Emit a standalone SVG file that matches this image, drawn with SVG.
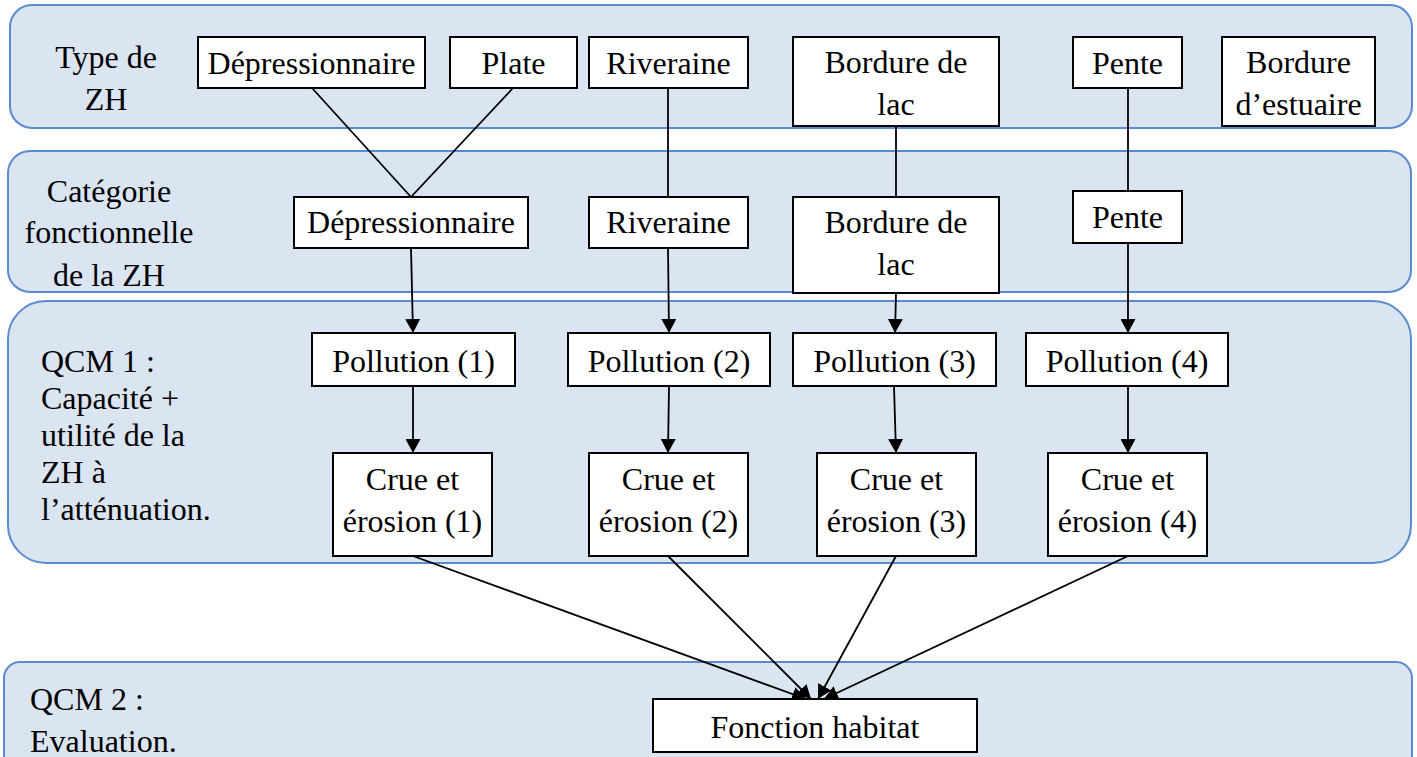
<svg xmlns="http://www.w3.org/2000/svg" width="1417" height="757" viewBox="0 0 1417 757">
<defs>
<style>
.band{fill:#dbe4f1;stroke:#5a8ad0;stroke-width:2}
.box{fill:#ffffff;stroke:#000000;stroke-width:2}
.t{font-family:"Liberation Serif","Times New Roman",serif;font-size:32px;fill:#000000}
.c{text-anchor:middle}
.ln{stroke:#000000;stroke-width:1.8;fill:none}
.ar{stroke:#000000;stroke-width:1.8;fill:none;marker-end:url(#ah)}
</style>
<marker id="ah" viewBox="0 0 14 15" refX="14" refY="7.5" markerWidth="14" markerHeight="15" markerUnits="userSpaceOnUse" orient="auto">
<path d="M0,0 L14,7.5 L0,15 z" fill="#000000"/>
</marker>
</defs>

<g id="band1"><rect class="band" x="10" y="5" width="1402" height="123" rx="22" ry="22"/>
<text class="t c" x="106" y="68">Type de</text><text class="t c" x="106" y="110">ZH</text></g>
<g id="band2"><rect class="band" x="8" y="151" width="1403" height="141" rx="22" ry="22"/>
<text class="t c" x="109" y="202">Catégorie</text><text class="t c" x="109" y="243">fonctionnelle</text><text class="t c" x="109" y="286">de la ZH</text></g>
<g id="band3"><rect class="band" x="8" y="301" width="1403" height="262" rx="38" ry="38"/>
<text class="t" x="41" y="372">QCM 1 :</text><text class="t" x="41" y="409">Capacité +</text><text class="t" x="41" y="446">utilité de la</text><text class="t" x="41" y="483">ZH à</text><text class="t" x="41" y="520">l’atténuation.</text></g>
<g id="band4"><rect class="band" x="4" y="662" width="1408" height="130" rx="16" ry="16"/>
<text class="t" x="30" y="710">QCM 2 :</text><text class="t" x="30" y="752">Evaluation.</text></g>

<g id="connectors">
<line class="ln" x1="312" y1="88" x2="411" y2="197"/>
<line class="ln" x1="513" y1="88" x2="411" y2="197"/>
<line class="ln" x1="668" y1="88" x2="668" y2="197"/>
<line class="ln" x1="896" y1="126" x2="896" y2="197"/>
<line class="ln" x1="1128" y1="88" x2="1128" y2="191"/>
<line class="ar" x1="411" y1="248" x2="413" y2="333"/>
<line class="ar" x1="668" y1="248" x2="669" y2="333"/>
<line class="ar" x1="896" y1="293" x2="895" y2="333"/>
<line class="ar" x1="1128" y1="243" x2="1128" y2="333"/>
<line class="ar" x1="413" y1="386" x2="413" y2="453"/>
<line class="ar" x1="669" y1="386" x2="668" y2="453"/>
<line class="ar" x1="894" y1="386" x2="896" y2="453"/>
<line class="ar" x1="1128" y1="386" x2="1128" y2="453"/>
<line class="ar" x1="413" y1="556" x2="806" y2="699"/>
<line class="ar" x1="668" y1="556" x2="811" y2="699"/>
<line class="ar" x1="896" y1="556" x2="818" y2="699"/>
<line class="ar" x1="1128" y1="556" x2="824" y2="699"/>
</g>

<g id="type-depressionnaire"><rect class="box" x="198" y="37" width="227" height="51"/><text class="t c" x="311.5" y="74">Dépressionnaire</text></g>
<g id="type-plate"><rect class="box" x="450" y="37" width="127" height="51"/><text class="t c" x="513.5" y="74">Plate</text></g>
<g id="type-riveraine"><rect class="box" x="589" y="37" width="159" height="51"/><text class="t c" x="668.5" y="74">Riveraine</text></g>
<g id="type-bordure-lac"><rect class="box" x="793" y="37" width="206" height="89"/><text class="t c" x="896" y="73">Bordure de</text><text class="t c" x="896" y="115">lac</text></g>
<g id="type-pente"><rect class="box" x="1073" y="37" width="109" height="51"/><text class="t c" x="1127.5" y="74">Pente</text></g>
<g id="type-bordure-estuaire"><rect class="box" x="1222" y="37" width="153" height="89"/><text class="t c" x="1298.5" y="73">Bordure</text><text class="t c" x="1298.5" y="115">d’estuaire</text></g>

<g id="cat-depressionnaire"><rect class="box" x="294" y="197" width="234" height="51"/><text class="t c" x="411" y="233">Dépressionnaire</text></g>
<g id="cat-riveraine"><rect class="box" x="589" y="197" width="159" height="51"/><text class="t c" x="668.5" y="233">Riveraine</text></g>
<g id="cat-bordure-lac"><rect class="box" x="793" y="197" width="206" height="96"/><text class="t c" x="896" y="233">Bordure de</text><text class="t c" x="896" y="275">lac</text></g>
<g id="cat-pente"><rect class="box" x="1073" y="191" width="109" height="52"/><text class="t c" x="1127.5" y="228">Pente</text></g>

<g id="pollution-1"><rect class="box" x="312" y="333" width="203" height="53"/><text class="t c" x="413.5" y="372">Pollution (1)</text></g>
<g id="pollution-2"><rect class="box" x="568" y="333" width="202" height="53"/><text class="t c" x="669" y="372">Pollution (2)</text></g>
<g id="pollution-3"><rect class="box" x="793" y="333" width="203" height="53"/><text class="t c" x="894.5" y="372">Pollution (3)</text></g>
<g id="pollution-4"><rect class="box" x="1026" y="333" width="202" height="53"/><text class="t c" x="1127" y="372">Pollution (4)</text></g>

<g id="crue-1"><rect class="box" x="333" y="453" width="159" height="103"/><text class="t c" x="412.5" y="490">Crue et</text><text class="t c" x="412.5" y="532">érosion (1)</text></g>
<g id="crue-2"><rect class="box" x="589" y="453" width="159" height="103"/><text class="t c" x="668.5" y="490">Crue et</text><text class="t c" x="668.5" y="532">érosion (2)</text></g>
<g id="crue-3"><rect class="box" x="817" y="453" width="159" height="103"/><text class="t c" x="896.5" y="490">Crue et</text><text class="t c" x="896.5" y="532">érosion (3)</text></g>
<g id="crue-4"><rect class="box" x="1048" y="453" width="159" height="103"/><text class="t c" x="1127.5" y="490">Crue et</text><text class="t c" x="1127.5" y="532">érosion (4)</text></g>

<g id="fonction-habitat"><rect class="box" x="653" y="699" width="324" height="53"/><text class="t c" x="815" y="738">Fonction habitat</text></g>
</svg>
